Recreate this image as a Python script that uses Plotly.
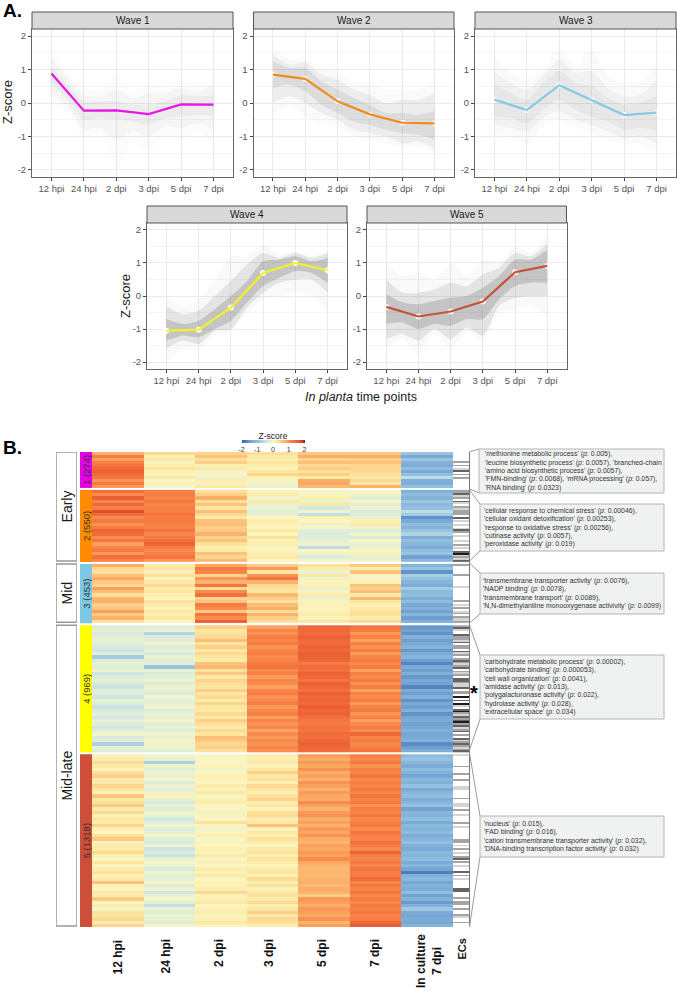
import plotly.graph_objects as go

W, H = 677, 991

# ---------- Panel A data ----------
time_labels = ["12 hpi", "24 hpi", "2 dpi", "3 dpi", "5 dpi", "7 dpi"]
cloud_x = [0, 0.5, 1, 1.5, 2, 2.5, 3, 3.5, 4, 4.5, 5]
wave_names = ["Wave 1", "Wave 2", "Wave 3", "Wave 4", "Wave 5"]
z_ticks = [-2, -1, 0, 1, 2]
z_tick_labels = ["-2", "-1", "0", "1", "2"]

wave1_mean = [0.88, -0.23, -0.22, -0.33, -0.04, -0.05]
wave2_mean = [0.85, 0.72, 0.05, -0.34, -0.59, -0.61]
wave3_mean = [0.10, -0.21, 0.53, 0.09, -0.36, -0.29]
wave4_mean = [-1.05, -1.02, -0.35, 0.70, 1.00, 0.78]
wave5_mean = [-0.33, -0.62, -0.47, -0.17, 0.72, 0.91]

wave1_outer_hi = [1.6, 0.95, 0.45, 0.4, 0.85, 0.35, 0.55, 0.5, 0.75, 0.55, 0.85]
wave1_outer_lo = [0.0, -0.3, -1.05, -0.9, -1.9, -1.2, -1.4, -1.0, -1.1, -0.85, -1.2]
wave1_mid_hi = [1.35, 0.75, 0.25, 0.2, 0.4, 0.15, 0.3, 0.3, 0.45, 0.35, 0.55]
wave1_mid_lo = [0.3, -0.1, -0.8, -0.75, -1.1, -0.85, -1.0, -0.7, -0.75, -0.6, -0.8]
wave1_core_hi = [1.1, 0.55, 0.05, 0.05, 0.05, -0.05, -0.05, 0.05, 0.25, 0.2, 0.25]
wave1_core_lo = [0.6, 0.1, -0.5, -0.45, -0.5, -0.55, -0.65, -0.45, -0.4, -0.35, -0.4]

wave2_outer_hi = [1.65, 1.3, 1.35, 1.0, 0.95, 0.6, 0.6, 0.4, 0.4, 0.4, 0.7]
wave2_outer_lo = [-0.35, -0.1, -0.4, -0.6, -0.7, -1.0, -1.1, -1.2, -1.3, -1.3, -1.5]
wave2_mid_hi = [1.45, 1.15, 1.2, 0.85, 0.7, 0.4, 0.25, 0.0, 0.1, 0.1, 0.3]
wave2_mid_lo = [0.0, 0.2, 0.0, -0.3, -0.5, -0.8, -0.9, -1.0, -1.2, -1.15, -1.35]
wave2_core_hi = [1.25, 1.05, 1.05, 0.65, 0.4, 0.15, -0.05, -0.3, -0.3, -0.35, -0.25]
wave2_core_lo = [0.45, 0.55, 0.35, -0.05, -0.3, -0.55, -0.65, -0.8, -0.9, -0.95, -1.1]

wave3_outer_hi = [1.4, 0.9, 0.7, 1.0, 1.6, 1.1, 1.6, 0.8, 0.6, 0.6, 1.2]
wave3_outer_lo = [-0.95, -1.0, -1.25, -0.7, -0.5, -0.7, -0.9, -1.1, -1.25, -1.2, -1.5]
wave3_mid_hi = [0.95, 0.6, 0.4, 0.8, 1.3, 0.9, 0.95, 0.45, 0.2, 0.25, 0.7]
wave3_mid_lo = [-0.65, -0.75, -0.85, -0.45, -0.25, -0.5, -0.65, -0.85, -1.05, -1.0, -1.2]
wave3_core_hi = [0.55, 0.3, 0.1, 0.6, 0.95, 0.6, 0.5, 0.15, -0.05, 0.0, 0.2]
wave3_core_lo = [-0.4, -0.45, -0.6, -0.2, 0.1, -0.2, -0.4, -0.55, -0.8, -0.75, -0.8]

wave4_outer_hi = [0.0, -0.3, -0.1, 0.5, 1.2, 1.2, 1.55, 1.25, 1.35, 1.2, 1.35]
wave4_outer_lo = [-2.0, -1.6, -1.6, -1.2, -1.05, -0.5, -0.1, 0.0, 0.1, 0.0, -0.5]
wave4_mid_hi = [-0.3, -0.55, -0.45, 0.0, 0.45, 0.95, 1.3, 1.15, 1.3, 1.15, 1.3]
wave4_mid_lo = [-1.6, -1.35, -1.45, -1.05, -1.0, -0.35, 0.1, 0.4, 0.5, 0.5, 0.1]
wave4_core_hi = [-0.7, -0.85, -0.75, -0.4, 0.0, 0.45, 1.05, 1.1, 1.2, 1.05, 1.15]
wave4_core_lo = [-1.35, -1.2, -1.25, -1.0, -0.75, -0.2, 0.3, 0.55, 0.75, 0.7, 0.4]

wave5_outer_hi = [1.0, 0.6, 0.7, 0.5, 1.0, 0.6, 1.1, 1.0, 1.5, 1.3, 1.85]
wave5_outer_lo = [-1.6, -1.3, -1.75, -1.1, -1.6, -1.1, -1.4, -0.5, -0.4, -0.3, -0.6]
wave5_mid_hi = [0.5, 0.1, 0.1, 0.2, 0.4, 0.3, 0.65, 0.85, 1.3, 1.2, 1.6]
wave5_mid_lo = [-1.3, -1.15, -1.35, -1.0, -1.3, -0.95, -1.2, -0.3, -0.05, 0.0, 0.0]
wave5_core_hi = [0.05, -0.2, -0.25, -0.15, -0.05, 0.0, 0.25, 0.6, 1.1, 1.1, 1.4]
wave5_core_lo = [-0.85, -0.8, -1.0, -0.85, -0.9, -0.7, -0.7, -0.1, 0.3, 0.4, 0.4]

# ---------- Panel B data ----------
cluster_labels = ["1 (274)", "2 (550)", "3 (453)", "4 (969)", "5 (1318)"]
cluster_sizes = [274, 550, 453, 969, 1318]
phase_labels = ["Early", "Mid", "Mid-late"]
phase_members = [[0, 1], [2], [3, 4]]
heat_columns = ["12 hpi", "24 hpi", "2 dpi", "3 dpi", "5 dpi", "7 dpi", "In culture<br>7 dpi"]

# rows top to bottom; columns as heat_columns
cluster1_rows = [
    [0.7, 0.35, 0.4, 0.3, 0.5, 0.5, -0.95],
    [1.2, 0.1, 0.55, 0.2, 0.75, 0.75, -1.35],
    [0.85, 0.2, 0.3, 0.15, 0.4, 0.45, -0.95],
    [1.15, 0.05, 0.45, 0.25, 0.6, 0.55, -1.25],
    [1.3, 0.15, 0.1, 0.15, 0.35, 0.4, -1.3],
    [1.45, 0.25, 0.2, 0.05, 0.5, 0.4, -1.05],
    [1.5, 0.1, -0.1, 0.25, 0.3, 0.35, -1.35],
    [1.4, 0.05, 0.05, 0.4, 0.45, 0.3, -1.0],
    [1.3, 0.2, -0.15, 0.1, 0.2, 0.2, -0.6],
    [0.95, 0.0, 0.15, 0.05, 0.75, 0.35, -1.25],
    [1.25, 0.1, 0.05, -0.1, 0.8, 0.25, -1.3],
    [0.9, -0.05, 0.2, -0.15, 0.65, 0.7, -1.0],
]
cluster2_rows = [
    [1.35, 1.15, 0.3, 0.1, 0.05, 0.0, -1.25],
    [1.0, 1.2, 0.45, 0.15, -0.05, -0.1, -1.05],
    [1.55, 1.1, 0.75, -0.1, 0.1, -0.25, -1.2],
    [1.1, 1.25, 0.3, 0.2, -0.15, 0.0, -0.9],
    [1.45, 1.05, 0.55, -0.2, 0.2, -0.3, -1.1],
    [1.15, 1.2, 0.25, -0.15, -0.4, -0.15, -1.0],
    [1.7, 1.15, 0.6, -0.25, -0.1, -0.35, -0.6],
    [1.4, 1.3, 0.35, -0.2, -0.55, -0.3, -0.85],
    [1.0, 1.2, 0.2, 0.0, 0.1, -0.2, -1.6],
    [1.25, 1.25, 0.55, 0.15, 0.0, 0.1, -1.35],
    [0.95, 1.15, 0.6, 0.1, -0.15, 0.2, -1.05],
    [1.2, 1.1, 0.45, 0.05, -0.05, -0.1, -1.2],
    [1.5, 1.3, 0.5, 0.2, -0.25, -0.3, -0.95],
    [1.4, 1.05, 0.7, 0.0, -0.3, -0.1, -0.75],
    [1.0, 1.2, 0.4, 0.3, -0.3, -0.35, -1.3],
    [1.3, 1.35, 0.55, 0.1, -0.2, 0.0, -1.0],
    [0.85, 1.5, 0.3, 0.15, -0.15, -0.2, -1.15],
    [1.1, 1.2, 0.1, 0.0, -0.6, -0.1, -1.3],
    [1.25, 1.0, 0.2, 0.05, 0.0, -0.05, -1.05],
    [0.9, 1.15, 0.55, 0.1, -0.1, 0.1, -0.95],
    [1.35, 1.3, 0.4, 0.2, -0.3, -0.2, -1.45],
    [1.1, 0.9, 0.65, 0.0, -0.05, -0.15, -1.1],
]
cluster3_rows = [
    [0.75, 0.15, 0.8, 0.5, 0.3, 0.5, -1.2],
    [0.35, 0.25, 1.25, 0.9, 0.15, 0.15, -0.95],
    [0.3, 0.1, 1.1, 0.25, -0.15, 0.55, -1.6],
    [0.55, 0.3, 0.4, 0.95, 0.2, 0.05, -0.8],
    [0.8, 0.05, 0.9, 1.3, -0.1, -0.05, -1.0],
    [0.5, 0.2, 0.7, 0.7, 0.05, 0.1, -1.15],
    [0.4, 0.35, 1.3, 0.35, 0.1, 0.55, -1.3],
    [0.85, 0.15, 0.35, 0.3, -0.2, 0.45, -0.85],
    [0.6, 0.25, 1.0, 0.2, 0.05, 0.6, -1.1],
    [0.3, 0.1, 1.35, 0.65, 0.15, 0.2, -1.05],
    [0.7, 0.05, 0.4, 0.45, -0.15, 0.65, -1.3],
    [0.75, 0.3, 0.55, 0.3, 0.05, 0.25, -1.05],
    [0.45, 0.15, 1.2, 0.6, 0.1, 0.1, -1.35],
    [0.55, 0.05, 1.0, 0.75, 0.0, 0.2, -1.2],
    [0.85, 0.25, 0.5, 0.3, 0.1, 0.3, -1.45],
    [0.5, 0.1, 1.3, 0.7, 0.15, 0.3, -1.15],
    [0.7, 0.2, 1.0, 0.45, 0.05, 0.15, -1.5],
    [0.3, 0.05, 1.55, 0.3, 0.25, 0.35, -1.25],
]
cluster4_rows = [
    [-0.3, -0.25, 0.45, 0.85, 1.45, 1.3, -1.55],
    [-0.2, -0.15, 0.2, 1.05, 1.45, 1.2, -1.45],
    [-0.35, -0.7, 0.3, 0.95, 1.4, 0.9, -1.6],
    [-0.25, -0.3, 0.35, 1.2, 1.5, 1.1, -1.25],
    [-0.15, -0.25, 0.6, 1.05, 1.45, 0.85, -1.5],
    [-0.3, -0.1, 0.25, 1.25, 1.4, 1.15, -1.35],
    [-0.35, -0.3, 0.45, 0.95, 1.5, 0.95, -1.2],
    [-0.45, -0.2, 0.2, 1.1, 1.45, 1.2, -1.55],
    [-0.25, -0.35, 0.35, 1.2, 1.55, 0.9, -1.3],
    [-0.85, -0.15, 0.25, 1.0, 1.5, 1.1, -1.15],
    [-0.3, -0.3, 0.15, 1.1, 1.45, 1.2, -1.5],
    [-0.2, -0.2, 0.55, 1.25, 1.2, 1.0, -1.7],
    [-0.3, -0.95, 0.65, 1.3, 1.4, 1.2, -1.35],
    [-0.15, -0.2, 0.3, 1.0, 1.35, 0.85, -1.5],
    [-0.45, -0.3, 0.5, 1.15, 1.5, 1.15, -1.25],
    [-0.3, -0.25, 0.2, 0.9, 1.45, 1.0, -1.55],
    [-0.2, -0.1, 0.4, 1.1, 1.3, 1.25, -1.35],
    [-0.35, -0.3, 0.3, 1.0, 1.55, 0.95, -1.45],
    [-0.5, -0.15, 0.25, 0.85, 1.45, 1.2, -1.7],
    [-0.3, -0.2, 0.45, 1.1, 1.35, 0.85, -1.3],
    [-0.25, -0.35, 0.2, 1.2, 1.55, 1.15, -1.5],
    [-0.45, -0.1, 0.35, 0.95, 1.45, 1.0, -1.25],
    [-0.2, -0.25, 0.15, 1.05, 1.5, 1.2, -1.6],
    [-0.3, -0.2, 0.4, 1.2, 1.4, 0.9, -1.35],
    [-0.5, -0.1, 0.25, 0.9, 1.55, 1.1, -1.5],
    [-0.35, -0.3, 0.2, 1.05, 1.45, 1.25, -1.2],
    [-0.25, -0.15, 0.35, 1.15, 1.5, 0.95, -1.6],
    [-0.4, -0.2, 0.2, 0.85, 1.35, 1.15, -1.4],
    [-0.2, -0.05, 0.45, 1.1, 1.3, 0.85, -1.3],
    [-0.3, -0.25, 0.3, 0.95, 1.25, 1.05, -1.45],
    [-0.45, -0.15, 0.15, 1.05, 1.35, 1.2, -1.35],
    [-0.25, -0.3, 0.35, 0.8, 1.3, 1.0, -1.25],
    [-0.1, -0.1, 0.25, 1.0, 1.4, 1.45, -1.4],
    [-0.35, -0.2, 0.6, 0.9, 1.35, 1.1, -1.35],
    [-0.3, 0.0, 0.5, 1.05, 1.45, 1.2, -1.25],
    [-0.75, -0.15, 0.35, 0.95, 1.5, 1.05, -1.65],
    [-0.2, -0.1, 0.45, 1.1, 1.45, 1.15, -1.5],
    [-0.3, -0.25, 0.3, 1.0, 1.4, 1.3, -1.3],
]
cluster5_rows = [
    [0.1, -0.1, -0.05, 0.15, 0.85, 1.15, -1.05],
    [0.15, -0.2, 0.0, 0.1, 0.75, 1.05, -0.95],
    [0.35, -0.75, -0.05, 0.2, 0.9, 1.25, -1.15],
    [0.2, -0.15, 0.05, 0.05, 0.8, 0.95, -1.3],
    [0.05, -0.25, -0.1, 0.25, 0.95, 1.2, -1.05],
    [0.3, -0.1, 0.0, 0.45, 0.75, 1.1, -1.2],
    [0.45, -0.2, 0.1, 0.2, 0.85, 1.3, -1.4],
    [0.15, -0.05, 0.05, 0.3, 0.7, 1.0, -1.1],
    [0.2, -0.3, 0.0, 0.1, 0.95, 1.2, -1.25],
    [0.4, -0.15, 0.15, 0.35, 0.85, 1.1, -1.0],
    [0.25, -0.25, 0.05, 0.25, 0.7, 1.25, -1.35],
    [0.1, -0.1, 0.2, 0.1, 0.9, 1.05, -1.15],
    [0.55, 0.05, -0.05, 0.3, 0.8, 1.3, -1.05],
    [0.2, -0.2, 0.1, 0.4, 0.75, 1.1, -1.3],
    [0.3, -0.35, 0.15, 0.15, 1.0, 1.2, -1.15],
    [0.5, -0.15, 0.05, 0.25, 0.85, 0.95, -1.0],
    [0.15, -0.3, -0.05, 0.05, 0.7, 1.2, -1.45],
    [0.35, -0.1, 0.1, 0.3, 0.9, 1.1, -1.15],
    [0.05, -0.15, -0.1, 0.35, 0.95, 1.3, -1.2],
    [0.25, -0.4, 0.0, 0.15, 0.75, 1.05, -1.05],
    [0.15, -0.25, 0.3, 0.2, 0.85, 1.15, -1.35],
    [0.4, -0.1, 0.05, 0.55, 0.7, 1.25, -1.1],
    [0.1, -0.3, -0.1, 0.05, 0.9, 1.0, -1.2],
    [0.0, -0.2, 0.0, 0.25, 0.8, 1.3, -1.05],
    [0.3, -0.05, 0.15, 0.1, 0.95, 1.15, -1.3],
    [0.5, -0.25, -0.05, 0.3, 0.75, 1.1, -1.15],
    [0.05, -0.35, 0.05, 0.15, 0.7, 1.35, -1.0],
    [0.15, -0.15, 0.0, 0.0, 0.85, 1.2, -1.25],
    [0.2, -0.45, 0.1, 0.2, 0.8, 1.05, -1.35],
    [0.35, -0.3, 0.05, 0.3, 0.9, 1.5, -1.1],
    [0.1, -0.5, 0.2, 0.1, 0.85, 1.2, -1.2],
    [0.0, -0.2, -0.05, 0.25, 1.0, 1.1, -1.05],
    [0.25, -0.05, 0.1, 0.15, 0.8, 1.25, -1.3],
    [0.05, -0.15, 0.0, 0.05, 0.7, 1.05, -1.15],
    [0.15, -0.35, 0.15, 0.2, 0.65, 1.3, -1.4],
    [0.3, -0.1, 0.05, 0.25, 0.7, 1.15, -1.75],
    [0.05, -0.25, 0.2, 0.1, 0.65, 1.2, -1.25],
    [0.2, -0.2, 0.0, 0.35, 0.7, 1.4, -1.1],
    [0.55, -0.05, 0.1, 0.15, 0.75, 1.05, -1.4],
    [0.1, -0.3, 0.05, 0.3, 0.65, 1.25, -1.2],
    [0.0, -0.1, 0.15, 0.05, 0.75, 1.1, -1.3],
    [0.2, -0.45, 0.35, 0.2, 0.7, 1.3, -1.05],
    [0.15, -0.2, 0.05, 0.3, 0.45, 1.0, -1.45],
    [0.5, -0.05, 0.1, 0.15, 0.9, 1.2, -1.2],
    [0.05, -0.25, 0.2, 0.35, 0.85, 1.05, -1.55],
    [0.15, -0.55, 0.0, 0.1, 0.75, 1.25, -1.25],
    [-0.05, -0.15, 0.1, 0.25, 0.9, 1.15, -0.9],
    [0.3, -0.3, 0.15, 0.45, 0.85, 1.3, -1.3],
    [0.25, -0.1, 0.05, 0.2, 0.8, 1.1, -1.4],
    [0.35, -0.2, 0.1, 0.35, 0.95, 1.2, -1.3],
    [0.15, -0.3, 0.2, 0.3, 0.7, 1.45, -1.35],
    [0.4, -0.05, 0.05, 0.15, 0.85, 1.55, -1.2],
]
# EC presence shading, top to bottom: 0 white ... 4 black
ec_levels = [0.0, 0.25, 0.5, 0.75, 1.0]
ec_cluster1 = [0, 0, 0, 0, 0, 2, 0, 2, 0, 1, 3, 0, 2, 0, 2, 0, 0, 0, 0, 0]
ec_cluster2 = [2, 2, 3, 1, 2, 0, 3, 1, 0, 2, 1, 2, 2, 2, 0, 3, 0, 1, 0, 1, 0, 1,
               3, 2, 0, 1, 0, 0, 1, 0, 2, 0, 1, 0, 3, 4, 1, 2, 1, 3]
ec_cluster3 = [2, 0, 0, 0, 0, 0, 2, 0, 0, 0, 0, 0, 0, 1, 0, 0, 0, 0, 0, 0, 0, 2,
               0, 1, 0, 2, 0, 1, 2, 0, 2, 1, 1, 2]
ec_cluster4 = [2, 3, 1, 0, 0, 3, 2, 2, 1, 3, 0, 2, 2, 0, 3, 1, 2, 0, 2, 3, 2, 1,
               2, 3, 0, 2, 1, 2, 0, 3, 3, 2, 1, 1, 3, 0, 2, 2, 0, 4, 0, 3, 0, 4,
               1, 0, 3, 4, 2, 1, 3, 2, 3, 4, 2, 3, 1, 2, 3, 0, 2, 0, 3, 1, 2, 3,
               2, 1, 2, 3]
ec_cluster5 = [1, 0, 0, 0, 0, 0, 2, 0, 0, 0, 2, 0, 0, 2, 0, 0, 0, 1, 1, 0, 0, 0,
               0, 2, 0, 0, 1, 1, 0, 2, 0, 0, 1, 0, 0, 0, 2, 0, 1, 0, 0, 0, 0, 0,
               0, 2, 2, 0, 1, 0, 2, 0, 1, 0, 2, 3, 0, 2, 0, 1, 0, 0, 3, 0, 2, 0,
               1, 0, 0, 0, 0, 3, 3, 0, 0, 0, 2, 0, 2, 2, 0, 0, 2, 0, 0, 2, 1, 0,
               0, 2, 0, 0]

callout_texts = [
    ["'methionine metabolic process' (<i>p</i>: 0.005),", "'leucine biosynthetic process' (<i>p</i>: 0.0057), 'branched-chain", "'amino acid biosynthetic process' (<i>p</i>: 0.0057),", "'FMN-binding' (<i>p</i>: 0.0068), 'mRNA processing' (<i>p</i>: 0.057),", "'RNA binding' (<i>p</i>: 0.0323)"],
    ["'cellular response to chemical stress' (<i>p</i>: 0.00046),", "'cellular oxidant detoxification' (<i>p</i>: 0.00253),", "'response to oxidative stress' (<i>p</i>: 0.00256),", "'cutinase activity' (<i>p</i>: 0.0057),", "'peroxidase activity' (<i>p</i>: 0.019)"],
    ["'transmembrane transporter activity' (<i>p</i>: 0.0076),", "'NADP binding' (<i>p</i>: 0.0078),", "'transmembrane transport' (<i>p</i>: 0.0089),", "'N,N-dimethylaniline monooxygenase activivity' (<i>p</i>: 0.0099)"],
    ["'carbohydrate metabolic process' (<i>p</i>: 0.00002),", "'carbohydrate binding' (<i>p</i>: 0.000053),", "'cell wall organization' (<i>p</i>: 0.0041),", "'amidase activity' (<i>p</i>: 0.013),", "'polygalacturonase activity' (<i>p</i>: 0.022),", "'hydrolase activity' (<i>p</i>: 0.028),", "'extracellular space' (<i>p</i>: 0.034)"],
    ["'nucleus' (<i>p</i>: 0.015),", "'FAD binding' (<i>p</i>: 0.016),", "'cation transmembrane transporter activity' (<i>p</i>: 0.032),", "'DNA-binding transcription factor activity' (<i>p</i>: 0.032)"],
]

# ---------- Styles and layout constants ----------
FONT = "Liberation Sans"
wave_colors = ["#e916e6", "#f08c1e", "#86c9e0", "#f2f02e", "#c8503c"]
cluster_colors = ["#e600e6", "#ff8c00", "#7ec8e6", "#ffff00", "#cd4f39"]
cloud_alpha = [(0.025, 0.05, 0.06), (0.03, 0.09, 0.13), (0.03, 0.06, 0.08), (0.04, 0.15, 0.27), (0.04, 0.15, 0.27)]
dot_opacity = [0.0, 0.75, 0.75, 0.95, 0.85]
panel_px = [(32, 233, 29, 177), (253.5, 454, 29, 177), (475, 676, 29, 177),
            (147, 347, 223, 369), (367, 566.5, 223, 369)]
STRIP_H = 17
HEAT = (92, 453, 452, 927)
STRIP_X = (80, 92)
PHASE_X = (56, 77)
EC_X = (453, 469.5)
GAP_GENES = 15
LINE_STEP = 8.4
colorscale_stops = [(-2, "#2b5ea7"), (-1.5, "#6f9fd0"), (-1, "#92c0e0"), (-0.5, "#c9e3e5"),
                    (-0.25, "#e2efd8"), (0, "#fbf6c0"), (0.25, "#fde6a0"), (0.5, "#fdc983"),
                    (0.8, "#fba862"), (1, "#f98b4e"), (1.3, "#f4753f"), (1.6, "#e85a32"),
                    (1.8, "#d73f2e"), (2, "#a50f26")]

means = [wave1_mean, wave2_mean, wave3_mean, wave4_mean, wave5_mean]
bands = [
    [(wave1_outer_hi, wave1_outer_lo), (wave1_mid_hi, wave1_mid_lo), (wave1_core_hi, wave1_core_lo)],
    [(wave2_outer_hi, wave2_outer_lo), (wave2_mid_hi, wave2_mid_lo), (wave2_core_hi, wave2_core_lo)],
    [(wave3_outer_hi, wave3_outer_lo), (wave3_mid_hi, wave3_mid_lo), (wave3_core_hi, wave3_core_lo)],
    [(wave4_outer_hi, wave4_outer_lo), (wave4_mid_hi, wave4_mid_lo), (wave4_core_hi, wave4_core_lo)],
    [(wave5_outer_hi, wave5_outer_lo), (wave5_mid_hi, wave5_mid_lo), (wave5_core_hi, wave5_core_lo)],
]
cluster_rows = [cluster1_rows, cluster2_rows, cluster3_rows, cluster4_rows, cluster5_rows]
ec_rows = [ec_cluster1, ec_cluster2, ec_cluster3, ec_cluster4, ec_cluster5]


def xdom(a, b):
    return [a / W, b / W]


def ydom(top, bottom):
    return [1 - bottom / H, 1 - top / H]


def note(x, y, text, size=10, color="#1a1a1a", angle=0, xa="center", ya="middle", align="center", bold=False):
    return dict(xref="paper", yref="paper", x=x / W, y=1 - y / H, text=f"<b>{text}</b>" if bold else text,
                showarrow=False, xanchor=xa, yanchor=ya, align=align, textangle=angle,
                font=dict(family=FONT, size=size, color=color))


def rect(x0, y0, x1, y1, fill, line, width=1):
    return dict(type="rect", xref="paper", yref="paper", x0=x0 / W, x1=x1 / W, y0=1 - y0 / H, y1=1 - y1 / H,
                fillcolor=fill, line=dict(color=line, width=width))


def seg(x0, y0, x1, y1, color="#9a9a9a", width=1):
    return dict(type="line", xref="paper", yref="paper", x0=x0 / W, x1=x1 / W, y0=1 - y0 / H, y1=1 - y1 / H,
                line=dict(color=color, width=width))


fig = go.Figure()
layout = {}
shapes, notes = [], []

# ---------- Panel A ----------
for i, name in enumerate(wave_names):
    ax = i + 1
    xname, yname = f"x{ax if ax > 1 else ''}", f"y{ax if ax > 1 else ''}"
    x0, x1, top, bottom = panel_px[i]
    for (hi, lo), alpha in zip(bands[i], cloud_alpha[i]):
        fig.add_trace(go.Scatter(x=cloud_x, y=lo, mode="lines", line=dict(width=0, shape="spline", smoothing=0.7),
                                 hoverinfo="skip", showlegend=False, xaxis=xname, yaxis=yname))
        fig.add_trace(go.Scatter(x=cloud_x, y=hi, mode="lines", fill="tonexty",
                                 fillcolor=f"rgba(110,110,110,{alpha})",
                                 line=dict(width=0, shape="spline", smoothing=0.7),
                                 hoverinfo="skip", showlegend=False, xaxis=xname, yaxis=yname))
    idx = list(range(len(time_labels)))
    fig.add_trace(go.Scatter(x=idx, y=means[i], mode="markers",
                             marker=dict(color="white", size=6, opacity=dot_opacity[i]),
                             showlegend=False, xaxis=xname, yaxis=yname))
    fig.add_trace(go.Scatter(x=idx, y=means[i], mode="lines", line=dict(color=wave_colors[i], width=2.2),
                             showlegend=False, xaxis=xname, yaxis=yname))
    layout[f"xaxis{ax if ax > 1 else ''}"] = dict(
        domain=xdom(x0, x1), anchor=yname, range=[-0.6, 5.6], tickvals=idx, ticktext=time_labels,
        ticks="outside", ticklen=3, tickcolor="#444", showline=True, mirror=True, linecolor="#666",
        linewidth=1, showgrid=True, gridcolor="#ebebeb", gridwidth=1, zeroline=False,
        tickfont=dict(family=FONT, size=9.5, color="#555"))
    layout[f"yaxis{ax if ax > 1 else ''}"] = dict(
        domain=ydom(top, bottom), anchor=xname, range=[-2.21, 2.21], tickvals=z_ticks, ticktext=z_tick_labels,
        ticks="outside", ticklen=3, tickcolor="#444", showline=True, mirror=True, linecolor="#666",
        linewidth=1, showgrid=True, gridcolor="#ebebeb", gridwidth=1, zeroline=False,
        minor=dict(dtick=0.5, showgrid=True, gridcolor="#f4f4f4", gridwidth=1, ticks=""),
        tickfont=dict(family=FONT, size=9.5, color="#555"))
    shapes.append(rect(x0, top - STRIP_H, x1, top, "#d9d9d9", "#555"))
    notes.append(note((x0 + x1) / 2, top - STRIP_H / 2, name, size=10))

notes += [note(8, 102, "Z-score", size=13, angle=-90),
          note(125, 296, "Z-score", size=13, angle=-90),
          note(361, 397, "<i>In planta</i> time points", size=12.5),
          note(1, 10, "A.", size=19, color="#000", xa="left", bold=True),
          note(1, 447, "B.", size=19, color="#000", xa="left", bold=True)]

# ---------- Panel B ----------
starts = []
pos = 0
for n in cluster_sizes:
    starts.append(pos)
    pos += n + GAP_GENES
total_genes = pos - GAP_GENES

layout["coloraxis"] = dict(
    cmin=-2, cmax=2,
    colorscale=[[(v + 2) / 4, c] for v, c in colorscale_stops],
    colorbar=dict(orientation="h", x=241.5 / W, xanchor="left", y=1 - 450 / H, yanchor="bottom",
                  lenmode="pixels", len=62.5, thickness=3, xpad=0, ypad=0, outlinewidth=0,
                  tickvals=z_ticks, ticktext=z_tick_labels, ticks="", ticklabelposition="outside",
                  tickfont=dict(family=FONT, size=7, color="#333"),
                  title=dict(text="Z-score", side="top", font=dict(family=FONT, size=8.5, color="#222"))))

for k, rows in enumerate(cluster_rows):
    step = cluster_sizes[k] / len(rows)
    fig.add_trace(go.Heatmap(z=rows, x=list(range(len(heat_columns))),
                             y=[starts[k] + (j + 0.5) * step for j in range(len(rows))],
                             coloraxis="coloraxis", xaxis="x6", yaxis="y6", hoverongaps=False))
    ec = ec_rows[k]
    ec_step = cluster_sizes[k] / len(ec)
    fig.add_trace(go.Heatmap(z=[[ec_levels[v]] for v in ec], x=["ECs"],
                             y=[starts[k] + (j + 0.5) * ec_step for j in range(len(ec))],
                             colorscale=[[0, "#ffffff"], [0.25, "#d4d4d4"], [0.5, "#a4a4a4"],
                                         [0.75, "#646464"], [1, "#1c1c1c"]],
                             zmin=0, zmax=1, showscale=False, xaxis="x9", yaxis="y6"))

fig.add_trace(go.Bar(x=[0.5] * 5, y=cluster_sizes, base=starts, width=1, marker=dict(color=cluster_colors, line=dict(width=0)),
                     text=cluster_labels, textposition="inside", insidetextanchor="middle", textangle=-90,
                     constraintext="none", textfont=dict(family=FONT, size=9.5, color="#333"), showlegend=False,
                     xaxis="x7", yaxis="y6"))
phase_base = [starts[m[0]] for m in phase_members]
phase_span = [starts[m[-1]] + cluster_sizes[m[-1]] - starts[m[0]] - 8 for m in phase_members]
fig.add_trace(go.Bar(x=[0.5] * 3, y=phase_span, base=phase_base, width=1,
                     marker=dict(color="white", line=dict(color="#999", width=1.5)),
                     text=phase_labels, textposition="inside", insidetextanchor="middle", textangle=-90,
                     constraintext="none", textfont=dict(family=FONT, size=14, color="#1a1a1a"), showlegend=False,
                     xaxis="x8", yaxis="y6"))

hidden = dict(visible=False, fixedrange=True)
layout["xaxis6"] = dict(domain=xdom(HEAT[0], HEAT[1]), anchor="y6", range=[-0.5, 6.5], **hidden)
layout["yaxis6"] = dict(domain=ydom(HEAT[2], HEAT[3]), anchor="x6", range=[total_genes, 0], **hidden)
layout["xaxis7"] = dict(domain=xdom(*STRIP_X), anchor="y6", range=[0, 1], **hidden)
layout["xaxis8"] = dict(domain=xdom(*PHASE_X), anchor="y6", range=[0, 1], **hidden)
layout["xaxis9"] = dict(domain=xdom(*EC_X), anchor="y6", **hidden)

shapes.append(seg(469.5, 452, 469.5, 927, "#777"))

# call-out boxes and connectors
boxes = [(479, 449, 664, 493), (480, 504, 664, 551), (480, 573, 664, 614), (480, 655, 664, 719), (480, 816, 664, 857)]
links = [(452, 489), (490, 561), (563, 623), (625, 750), (753, 927)]
for (bx0, by0, bx1, by1), (la, lb), lines, pad in zip(boxes, links, callout_texts, [4, 1.5, 1, 1.5, 1.5]):
    shapes.append(rect(bx0, by0, bx1, by1, "#f0f1f1", "#b4b4b4"))
    shapes.append(seg(469.5, la, bx0, by0))
    shapes.append(seg(469.5, lb, bx0, by1))
    first = (by0 + by1) / 2 - LINE_STEP * (len(lines) - 1) / 2
    for j, line in enumerate(lines):
        notes.append(note(bx0 + pad, first + j * LINE_STEP, line, size=6.9, color="#333", xa="left", align="left"))

notes.append(note(474, 693, "*", size=20, color="#000", bold=True))

# column labels under the heat map
col_x = [117, 165, 219, 269, 322, 375]
for cx, lab in zip(col_x, heat_columns[:6]):
    notes.append(note(cx, 937, lab, size=12, color="#111", angle=-90, ya="top", bold=True))
notes.append(note(429, 932, heat_columns[6], size=12, color="#111", angle=-90, ya="top", bold=True))
notes.append(note(461, 937, "ECs", size=11, color="#111", angle=-90, ya="top", bold=True))

fig.update_layout(width=W, height=H, margin=dict(l=0, r=0, t=0, b=0), paper_bgcolor="white",
                  plot_bgcolor="white", showlegend=False, shapes=shapes, annotations=notes,
                  barmode="overlay", **layout)
fig.write_html("out.html", post_script="document.body.style.margin='0';",
               config={"displayModeBar": False})
